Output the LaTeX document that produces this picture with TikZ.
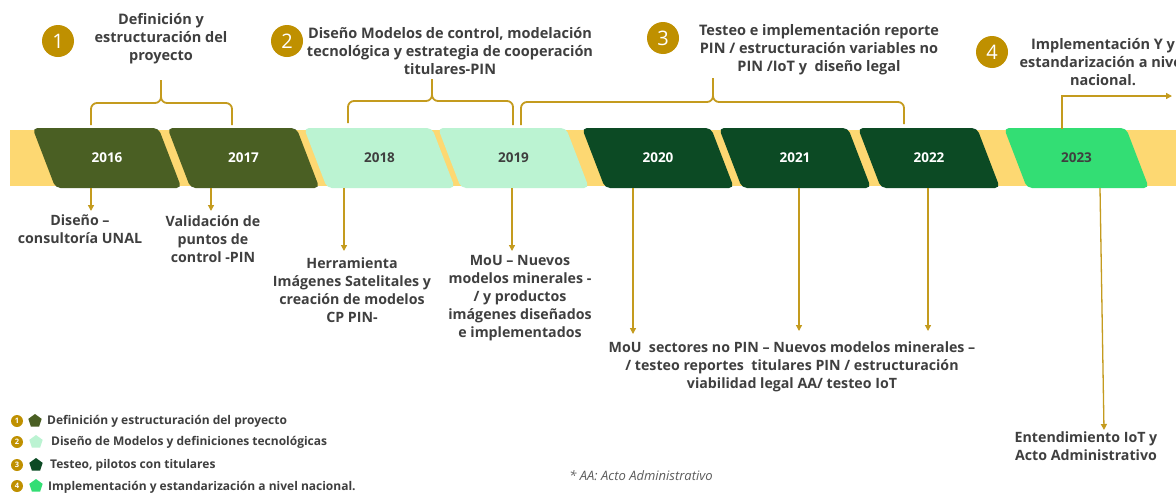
\documentclass[tikz,border=0pt]{standalone}
\usepackage{fontspec}
\setmainfont{Open Sans}
\usetikzlibrary{arrows.meta,shapes.geometric}
\definecolor{gold}{HTML}{BF9000}
\definecolor{goldline}{HTML}{C49B1E}
\definecolor{olive}{HTML}{4A5F23}
\definecolor{mint}{HTML}{BBF3D2}
\definecolor{dkgreen}{HTML}{0C4A24}
\definecolor{brgreen}{HTML}{33DE74}
\definecolor{band}{HTML}{FDD872}
\definecolor{txt}{HTML}{3F3F3F}
\newcommand{\yearbox}[6]{%
  \fill[#4, rounded corners=5pt] (#2,128) -- ++(#3,0) -- ++(23,60) -- ++(-#3,0) -- cycle;
  \node[yearlbl, text=#5] (#1) at ({#2+#3/2+11.5},158) {#6};
}
\begin{document}
\begin{tikzpicture}[x=1pt,y=-1pt,
  yearlbl/.style={font=\fontsize{13.5}{15}\selectfont\bfseries, inner sep=0pt},
  head/.style={font=\fontsize{14.5}{18}\selectfont\bfseries, text=txt, align=center, inner sep=0pt},
  desc/.style={font=\fontsize{14.2}{18}\selectfont\bfseries, text=txt, align=center, inner sep=0pt, anchor=north},
  numc/.style={circle, fill=gold, text=white, minimum size=32pt, inner sep=0pt, font=\fontsize{20}{20}\selectfont},
  brace/.style={draw=goldline, line width=1.8pt, rounded corners=6pt},
  link/.style={draw=goldline, line width=1.3pt, -{Triangle[width=6pt,length=6pt]}},
  lnum/.style={circle, fill=gold, text=white, minimum size=12pt, inner sep=0pt, font=\fontsize{7.5}{7.5}\selectfont\bfseries},
  lpent/.style={regular polygon, regular polygon sides=5, minimum size=14pt, inner sep=0pt},
  ltext/.style={anchor=west, font=\fontsize{12}{13}\selectfont\bfseries, text=txt, inner sep=0pt}
]
\useasboundingbox (0,0) rectangle (1176,493);
\clip (0,0) rectangle (1176,493);
\fill[white] (0,0) rectangle (1176,493);

% band
\fill[band] (10,130) rectangle (1176,186);

% year boxes
\yearbox{y16}{32.5}{126}{olive}{white}{2016}
\yearbox{y17}{167.5}{129}{olive}{white}{2017}
\yearbox{y18}{304}{128}{mint}{txt}{2018}
\yearbox{y19}{438}{128}{mint}{txt}{2019}
\yearbox{y20}{582}{129}{dkgreen}{white}{2020}
\yearbox{y21}{719}{129}{dkgreen}{white}{2021}
\yearbox{y22}{858}{119}{dkgreen}{white}{2022}
\yearbox{y23}{1004}{122}{brgreen}{txt}{2023}

% headings
\node[numc] (c1) at (58,41) {1};
\node[head] (h1) at (161,39) {Definición y\\estructuración del\\proyecto};
\node[numc] (c2) at (287,41) {2};
\node[head] (h2) at (450,51) {Diseño Modelos de control, modelación\\tecnológica y estrategia de cooperación\\titulares-PIN};
\node[numc] (c3) at (663,38) {3};
\node[head] (h3) at (819,50) {Testeo e implementación reporte\\PIN / estructuración variables no\\PIN /IoT y\ \ diseño legal};
\node[numc] (c4) at (992,52) {4};
\node[head] (h4) at (1103,62) {Implementación Y y\\estandarización a nivel\\nacional.};

% braces
\coordinate (b1l) at (91,125); \coordinate (b1m) at (161,103); \coordinate (b1t) at (161,80); \coordinate (b1r) at (232,125);
\draw[brace] (b1l) |- (b1m) -- (b1t);
\draw[brace] (b1r) |- (b1m) -- (b1t);
\coordinate (b2l) at (348,123); \coordinate (b2m) at (432,101); \coordinate (b2t) at (432,79); \coordinate (b2r) at (513,125);
\draw[brace] (b2l) |- (b2m) -- (b2t);
\draw[brace] (b2r) |- (b2m) -- (b2t);
\coordinate (b3l) at (521,125); \coordinate (b3m) at (713,102); \coordinate (b3t) at (713,78); \coordinate (b3r) at (904,124);
\draw[brace] (b3l) |- (b3m) -- (b3t);
\draw[brace] (b3r) |- (b3m) -- (b3t);

% arrow 4
\coordinate (a4s) at (1062,129); \coordinate (a4m) at (1062,96); \coordinate (a4e) at (1172,96);
\draw[link] (a4s) -- (a4m) -- (a4e);

% descriptions
\node[desc] (l16) at (80,215) {Diseño –\\consultoría UNAL};
\node[desc] (l17) at (213,215) {Validación de\\puntos de\\control -PIN};
\node[desc] (l18) at (352,258) {Herramienta\\Imágenes Satelitales y\\creación de modelos\\CP PIN-};
\node[desc] (l19) at (520,255) {MoU – Nuevos\\modelos minerales -\\/ y productos\\imágenes diseñados\\e implementados};
\node[desc] (l20) at (792,342) {MoU\ \ sectores no PIN – Nuevos modelos minerales –\\/ testeo reportes\ \ titulares PIN / estructuración\\viabilidad legal AA/ testeo IoT};
\node[desc] (l23) at (1086,432) {Entendimiento IoT y\\Acto Administrativo};

% down connectors
\coordinate (s16) at (91,188);  \coordinate (e16) at (91,211);
\coordinate (s17) at (211,188); \coordinate (e17) at (211,211);
\coordinate (s18) at (344,188); \coordinate (e18) at (344,251);
\coordinate (s19) at (512,188); \coordinate (e19) at (512,251);
\coordinate (s20) at (633,188); \coordinate (e20) at (633,334);
\coordinate (s21) at (799,188); \coordinate (e21) at (799,331);
\coordinate (s22) at (928,188); \coordinate (e22) at (928,331);
\coordinate (s23) at (1100,188); \coordinate (e23) at (1104,430);
\foreach \k in {16,17,18,19,20,21,22,23} {\draw[link] (s\k) -- (e\k);}

% legend
\node[lnum] (n1) at (17,421) {1};
\node[lpent, fill=olive] (p1) at (35,421) {};
\node[ltext] (t1) at (47,421) {Definición y estructuración del proyecto};
\node[lnum] (n2) at (17,442) {2};
\node[lpent, fill=mint] (p2) at (36,442) {};
\node[ltext] (t2) at (51,442) {Diseño de Modelos y definiciones tecnológicas};
\node[lnum] (n3) at (17,465) {3};
\node[lpent, fill=dkgreen] (p3) at (36,465) {};
\node[ltext] (t3) at (50,465) {Testeo, pilotos con titulares};
\node[lnum] (n4) at (17,486) {4};
\node[lpent, fill=brgreen] (p4) at (36,486) {};
\node[ltext] (t4) at (48,487) {Implementación y estandarización a nivel nacional.};

% footnote
\node[font=\fontsize{13}{14}\selectfont\itshape, text=txt!85, inner sep=0pt] (fn) at (641,476) {* AA: Acto Administrativo};
\end{tikzpicture}
\end{document}
